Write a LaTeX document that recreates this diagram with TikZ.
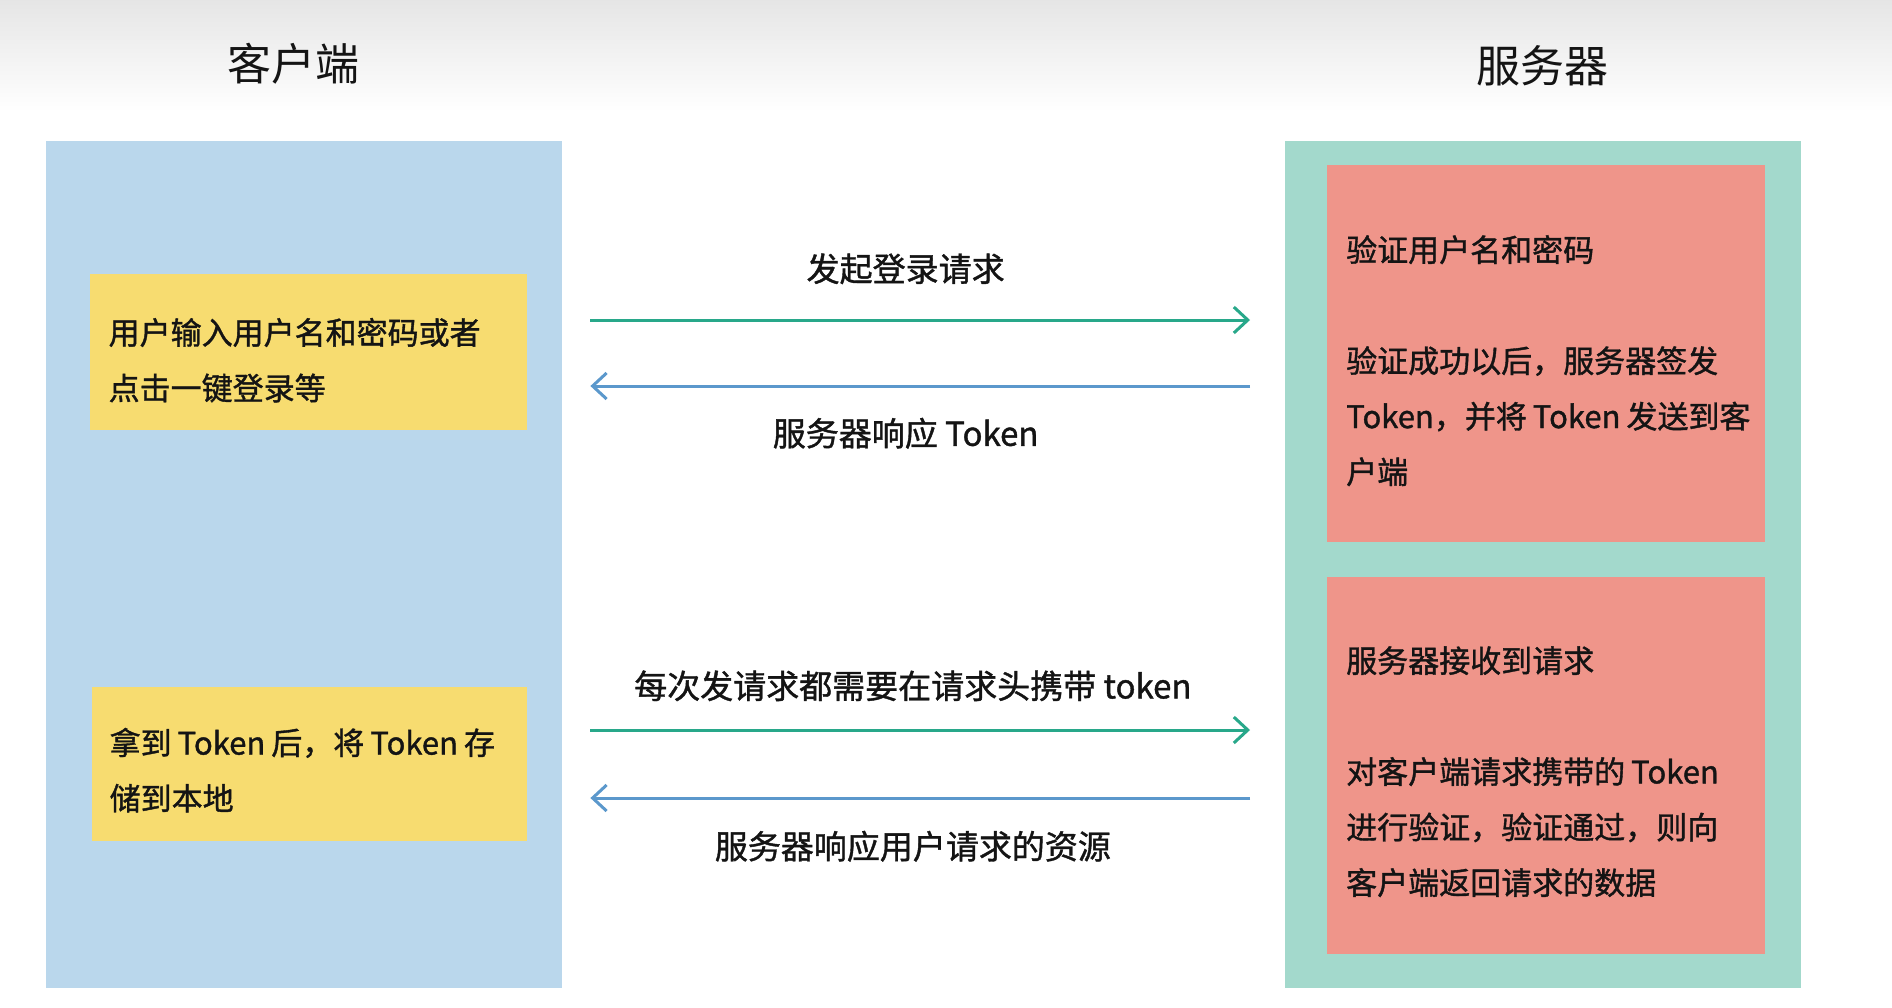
\documentclass[tikz,border=0pt]{standalone}
\usepackage{fontspec}
\setmainfont{Noto Sans CJK SC}
\newfontfamily\medfont{Noto Sans CJK SC}[FakeBold=1.2]
\newcommand{\nsp}{\hspace{6pt}}
\usetikzlibrary{arrows.meta}
\definecolor{clientblue}{HTML}{BAD7EC}
\definecolor{servergreen}{HTML}{A3D9CC}
\definecolor{noteyellow}{HTML}{F7DC70}
\definecolor{notered}{HTML}{EF958A}
\definecolor{reqteal}{HTML}{28A88A}
\definecolor{respblue}{HTML}{5B98CC}
\definecolor{inkblack}{HTML}{141414}
\begin{document}
\begin{tikzpicture}[x=1pt,y=-1pt,
  panel/.style={draw=none, anchor=north west, inner sep=0pt},
  notebox/.style={draw=none, anchor=north west, inner sep=0pt},
  notetext/.style={anchor=center, align=left, text width=400pt,
    inner xsep=18pt, inner ysep=0pt, text=inkblack,
    font=\medfont\fontsize{31pt}{55.5pt}\selectfont},
  title/.style={text=inkblack, font=\fontsize{44pt}{50pt}\selectfont},
  msg/.style={text=inkblack, font=\medfont\fontsize{33pt}{40pt}\selectfont},
  reqarrow/.style={draw=reqteal, line width=3pt, -{Straight Barb[length=14pt,width=26pt]}},
  resparrow/.style={draw=respblue, line width=3pt, -{Straight Barb[length=14pt,width=26pt]}}
]
\useasboundingbox (0,0) rectangle (1892,1007);
\fill[white] (0,0) rectangle (1892,1007);
\shade[top color=black!10, bottom color=white] (0,0) rectangle (1892,112);

% titles
\node[title] (tclient) at (293,64) {客户端};
\node[title] (tserver) at (1542,66) {服务器};

% panels
\node[panel, fill=clientblue, minimum width=516pt, minimum height=847pt] (client) at (46,141) {};
\node[panel, fill=servergreen, minimum width=516pt, minimum height=847pt] (server) at (1285,141) {};

% client notes
\node[notebox, fill=noteyellow, minimum width=437pt, minimum height=156pt] (c1) at (90,274) {};
\node[notetext] (c1t) at ([yshift=-8pt]c1.center)
  {\mbox{用户输入用户名和密码或者}\\\mbox{点击一键登录等}};
\node[notebox, fill=noteyellow, minimum width=435pt, minimum height=154pt] (c2) at (92,687) {};
\node[notetext] (c2t) at ([yshift=-6pt]c2.center)
  {\mbox{拿到\nsp Token\nsp 后，将\nsp Token\nsp 存}\\\mbox{储到本地}};

% server notes
\node[notebox, fill=notered, minimum width=438pt, minimum height=377pt] (s1) at (1327,165) {};
\node[notetext] (s1t) at ([yshift=-7pt]s1.center)
  {\mbox{验证用户名和密码}\\[55.5pt]\mbox{验证成功以后，服务器签发}\\\mbox{Token，并将\nsp Token\nsp 发送到客}\\\mbox{户端}};
\node[notebox, fill=notered, minimum width=438pt, minimum height=377pt] (s2) at (1327,577) {};
\node[notetext] (s2t) at ([yshift=-6pt]s2.center)
  {\mbox{服务器接收到请求}\\[55.5pt]\mbox{对客户端请求携带的\nsp Token}\\\mbox{进行验证，验证通过，则向}\\\mbox{客户端返回请求的数据}};

% connectors
\draw[reqarrow, shorten <=28pt, shorten >=35pt] (client.east |- 0,320) -- (server.west |- 0,320)
  node[msg, pos=0.475, above=31pt] (m1) {发起登录请求};
\draw[resparrow, shorten <=35pt, shorten >=28pt] (server.west |- 0,386) -- (client.east |- 0,386)
  node[msg, pos=0.525, below=27pt] (m2) {服务器响应 Token};
\draw[reqarrow, shorten <=28pt, shorten >=35pt] (client.east |- 0,730) -- (server.west |- 0,730)
  node[msg, pos=0.485, above=24pt] (m3) {每次发请求都需要在请求头携带 token};
\draw[resparrow, shorten <=35pt, shorten >=28pt] (server.west |- 0,798) -- (client.east |- 0,798)
  node[msg, pos=0.515, below=28pt] (m4) {服务器响应用户请求的资源};
\end{tikzpicture}
\end{document}
